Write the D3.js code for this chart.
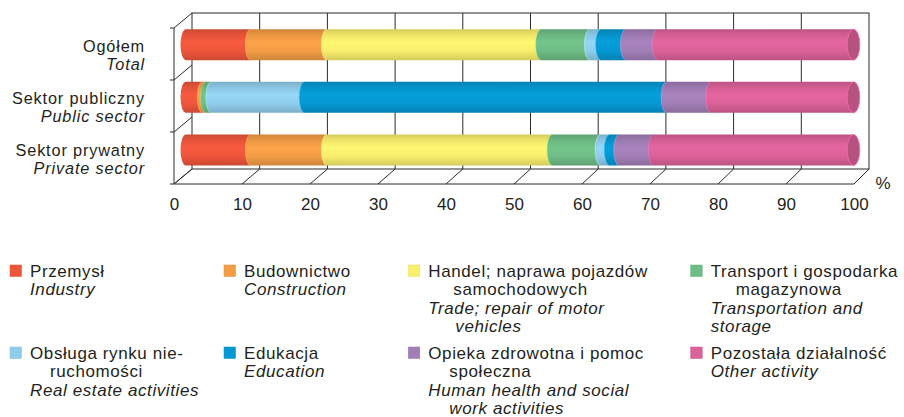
<!DOCTYPE html>
<html><head><meta charset="utf-8">
<script src="https://cdn.jsdelivr.net/npm/d3@7"></script>
<style>
body{margin:0;background:#fff}
svg{display:block}
text{font-family:"Liberation Sans",Arial,Helvetica,sans-serif;fill:#231f20}
</style>
</head><body>
<svg id="c" width="904" height="417"></svg>
<script>
// ---------- DATA ----------
const catPL = ["Ogółem", "Sektor publiczny", "Sektor prywatny"];
const catEN = ["Total", "Public sector", "Private sector"];

const seriesKeys = ["industry","construction","trade","transport","realEstate","education","health","other"];
const industry     = [9.7, 2.5, 9.7];
const construction = [11.4, 0.5, 11.4];
const trade        = [32.1, 0.0, 33.8];
const transport    = [7.3, 0.8, 7.2];
const realEstate   = [1.7, 14.0, 1.4];
const education    = [3.7, 54.2, 1.4];
const health       = [4.8, 6.7, 5.2];
const other        = [29.3, 21.3, 29.9];

const seriesPL = [["Przemysł"], ["Budownictwo"], ["Handel; naprawa pojazdów","samochodowych"],
  ["Transport i gospodarka","magazynowa"], ["Obsługa rynku nie-","ruchomości"], ["Edukacja"],
  ["Opieka zdrowotna i pomoc","społeczna"], ["Pozostała działalność"]];
const seriesEN = [["Industry"], ["Construction"], ["Trade; repair of motor","vehicles"],
  ["Transportation and","storage"], ["Real estate activities"], ["Education"],
  ["Human health and social","work activities"], ["Other activity"]];

const tickValues = [0,10,20,30,40,50,60,70,80,90,100];
const unitLabel = "%";

// ---------- STYLE / LAYOUT ----------
const colors = ["#ee563b","#f39c45","#f9ee6d","#6fbd86","#90cdec","#0598d2","#a27eb7","#db6199"];
const lineColor = "#2b2b2b";
const FS = 17;
const LS = "0.6px";

const svg = d3.select("#c");
const defs = svg.append("defs");

const xFront = d3.scaleLinear().domain([0,100]).range([174,854]);
const xBack  = d3.scaleLinear().domain([0,100]).range([192,869]);
const xBar   = d3.scaleLinear().domain([0,100]).range([186,853.5]);
const yFront = d3.scaleBand().domain(d3.range(catPL.length)).range([28,184]);
const yBack  = d3.scaleBand().domain(d3.range(catPL.length)).range([13,169]);
const yBar   = d3.scaleBand().domain(d3.range(catPL.length)).range([18.3,176.3]);
const barH = 31, rx = 5.5;

// data table for the stack
const vals = {industry, construction, trade, transport, realEstate, education, health, other};
const table = catPL.map((c,i) => { const r = {}; seriesKeys.forEach(k => r[k] = vals[k][i]); return r; });
const stacked = d3.stack().keys(seriesKeys)(table);

// gradients
colors.forEach((c,j) => {
  const col = d3.color(c);
  const g = defs.append("linearGradient").attr("id","g"+j).attr("x1",0).attr("y1",0).attr("x2",0).attr("y2",1);
  [[0,col.darker(0.45)],[0.18,col.darker(0.12)],[0.42,col.brighter(0.12)],[0.7,col],[1,col.darker(0.45)]]
    .forEach(([o,cc]) => g.append("stop").attr("offset",o).attr("stop-color",cc.formatHex()));
});

// ---------- BACK WALL ----------
const back = svg.append("g").attr("stroke",lineColor).attr("stroke-width",1).attr("fill","none");
back.append("rect").attr("x",xBack(0)).attr("y",yBack.range()[0])
  .attr("width",xBack(100)-xBack(0)).attr("height",yBack.range()[1]-yBack.range()[0]);
back.selectAll("line.grid").data(tickValues.filter(t=>t>0&&t<100)).join("line")
  .attr("x1",d=>xBack(d)).attr("x2",d=>xBack(d))
  .attr("y1",yBack.range()[0]).attr("y2",yBack.range()[1]);

// ---------- BARS ----------
const bars = svg.append("g");
catPL.forEach((c,i) => {
  const top = yBar(i) + (yBar.bandwidth()-barH)/2, bot = top + barH, ry = barH/2;
  stacked.forEach((s,j) => {
    const [v0,v1] = s[i];
    if (v1 - v0 <= 0) return;
    const x0 = xBar(v0), x1 = xBar(v1);
    bars.append("path")
      .attr("d",`M${x0},${top}L${x1},${top}L${x1},${bot}L${x0},${bot}A${rx},${ry} 0 0 1 ${x0},${top}Z`)
      .attr("fill",`url(#g${j})`);
    if (v0 > 0) {
      bars.append("path")
        .attr("d",`M${x0},${bot}A${rx},${ry} 0 0 1 ${x0},${top}`)
        .attr("fill","none").attr("stroke",d3.color(colors[j]).brighter(0.7).formatHex())
        .attr("stroke-width",0.8).attr("stroke-opacity",0.6);
    }
  });
  // right end cap
  const last = colors[colors.length-1];
  bars.append("ellipse").attr("cx",xBar(100)).attr("cy",top+ry).attr("rx",rx+0.8).attr("ry",ry)
    .attr("fill",d3.color(last).darker(0.5).formatHex())
    .attr("stroke",d3.color(last).brighter(0.3).formatHex()).attr("stroke-width",0.8);
});

// ---------- FRONT LINES ----------
const fr = svg.append("g").attr("stroke",lineColor).attr("stroke-width",1).attr("fill","none");
const yF0 = yFront.range()[0], yF1 = yFront.range()[1], yB1 = yBack.range()[1];
fr.append("line").attr("x1",xFront(0)).attr("x2",xFront(100)).attr("y1",yF1).attr("y2",yF1);
fr.selectAll("line.fl").data(tickValues).join("line")
  .attr("x1",d=>xFront(d)).attr("y1",yF1).attr("x2",d=>xBack(d)).attr("y2",yB1);
fr.append("line").attr("x1",xFront(0)).attr("x2",xFront(0)).attr("y1",yF0).attr("y2",yF1);
const bounds = d3.range(catPL.length+1);
fr.selectAll("line.lw").data(bounds).join("line")
  .attr("x1",xFront(0)).attr("y1",d=>yF0+d*yFront.step())
  .attr("x2",xBack(0)).attr("y2",d=>yBack.range()[0]+d*yBack.step());
fr.selectAll("line.lt").data(bounds).join("line")
  .attr("x1",xFront(0)-4).attr("x2",xFront(0))
  .attr("y1",d=>yF0+d*yFront.step()).attr("y2",d=>yF0+d*yFront.step());

// ---------- AXIS ----------
const ax = svg.append("g").attr("transform",`translate(0,${yF1})`)
  .call(d3.axisBottom(xFront).tickValues(tickValues).tickSize(0).tickPadding(14).tickFormat(d3.format("d")));
ax.select(".domain").remove();
ax.selectAll("text").style("font-size",FS+"px").style("font-family",'"Liberation Sans",Arial,sans-serif').style("fill","#231f20");
svg.append("text").attr("x",883).attr("y",189).attr("text-anchor","middle")
  .style("font-size",FS+"px").text(unitLabel);

// ---------- CATEGORY LABELS ----------
const CFS = 16.3, CLS = "0.85px";
catPL.forEach((c,i) => {
  const cy = yFront(i) + yFront.bandwidth()/2;
  svg.append("text").attr("x",145).attr("y",cy-2.5).attr("text-anchor","end")
    .style("font-size",CFS+"px").style("letter-spacing",CLS).text(c);
  svg.append("text").attr("x",145).attr("y",cy+15.5).attr("text-anchor","end")
    .style("font-size",CFS+"px").style("letter-spacing",CLS).style("font-style","italic").text(catEN[i]);
});

// ---------- LEGEND ----------
const colX = [10,224,408.3,690.7];
const rowY = [277,359];
const lineH = 18.3;
const indent = {2:[25,27],3:[25,0],4:[20,0],6:[21,21]};
const lg = svg.append("g");
seriesPL.forEach((pl,j) => {
  const mx = colX[j%4], by = rowY[Math.floor(j/4)], tx = mx + 20;
  lg.append("rect").attr("x",mx).attr("y",by-12).attr("width",11.5).attr("height",11.5)
    .attr("fill",colors[j]).attr("stroke",d3.color(colors[j]).darker(0.2).formatHex()).attr("stroke-width",0.5);
  let k = 0;
  const ind = indent[j] || [0,0];
  pl.forEach((t,n) => {
    lg.append("text").attr("x",tx + (n>0?ind[0]:0)).attr("y",by + lineH*k++)
      .style("font-size",FS+"px").style("letter-spacing",LS).text(t);
  });
  seriesEN[j].forEach((t,n) => {
    lg.append("text").attr("x",tx + (n>0?ind[1]:0)).attr("y",by + lineH*k++)
      .style("font-size",FS+"px").style("letter-spacing",LS).style("font-style","italic").text(t);
  });
});
</script>
</body></html>
